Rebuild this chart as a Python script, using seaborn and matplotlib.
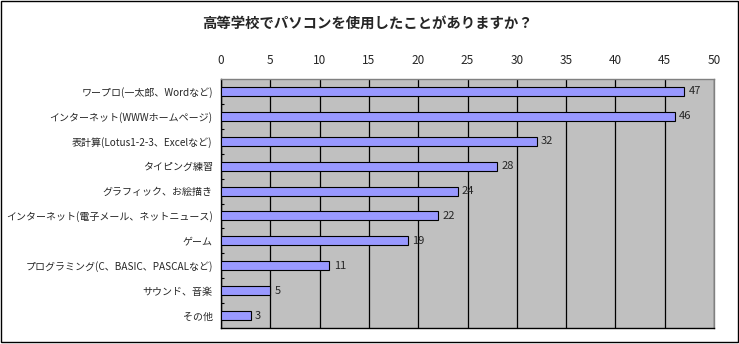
import numpy as np
import pandas as pd
import matplotlib
matplotlib.use("Agg")
import matplotlib.pyplot as plt
from matplotlib.patches import Rectangle
import seaborn as sns

categories = [
    "ワープロ(一太郎、Wordなど)",
    "インターネット(WWWホームページ)",
    "表計算(Lotus1-2-3、Excelなど)",
    "タイピング練習",
    "グラフィック、お絵描き",
    "インターネット(電子メール、ネットニュース)",
    "ゲーム",
    "プログラミング(C、BASIC、PASCALなど)",
    "サウンド、音楽",
    "その他",
]
values = [47, 46, 32, 28, 24, 22, 19, 11, 5, 3]
xticks = [0, 5, 10, 15, 20, 25, 30, 35, 40, 45, 50]
title = "高等学校でパソコンを使用したことがありますか？"

sns.set_style("white")
plt.rcParams['font.family'] = ['Noto Sans CJK JP', 'DejaVu Sans']

df = pd.DataFrame({"item": categories, "count": values})

fig = plt.figure(figsize=(7.39, 3.44), dpi=100)
W, H = 739, 344
ax = fig.add_axes([221 / W, 1 - 328 / H, (714 - 221) / W, (328 - 79) / H])
ax.set_facecolor("#C0C0C0")

sns.barplot(data=df, x="count", y="item", orient="h", ax=ax,
            color="#9999FF", width=0.36, edgecolor="black", linewidth=0.8,
            saturation=1, zorder=3)

ax.set_xlim(0, 50)
ax.set_ylim(9.5, -0.5)
ax.set_xticks(xticks)
ax.xaxis.tick_top()
ax.tick_params(axis="x", length=0, pad=9, labelsize=8.5)
ax.tick_params(axis="y", length=0, pad=6, labelsize=7.2)
ax.set_yticks(np.arange(0.5, 9.5, 1), minor=True)
ax.tick_params(axis="y", which="minor", direction="in", length=1.8, width=0.8, color="black", left=True)
ax.set_xlabel("")
ax.set_ylabel("")
ax.grid(axis="x", color="black", linewidth=0.9, zorder=1)
ax.set_axisbelow(True)

for s in ["left", "bottom"]:
    ax.spines[s].set_color("black")
    ax.spines[s].set_linewidth(1)
for s in ["top", "right"]:
    ax.spines[s].set_color("#808080")
    ax.spines[s].set_linewidth(1)

for c in ax.containers:
    ax.bar_label(c, padding=3, fontsize=8)

fig.text(367 / W, 1 - 24 / H, title, ha="center", va="center",
         fontsize=10.4, fontweight="bold")

fig.patches.append(Rectangle((0.5 / W, 1 - 342 / H), 737.5 / W, 341.5 / H,
                             transform=fig.transFigure, fill=False,
                             edgecolor="black", linewidth=1))

fig.savefig("out.png", dpi=100)
